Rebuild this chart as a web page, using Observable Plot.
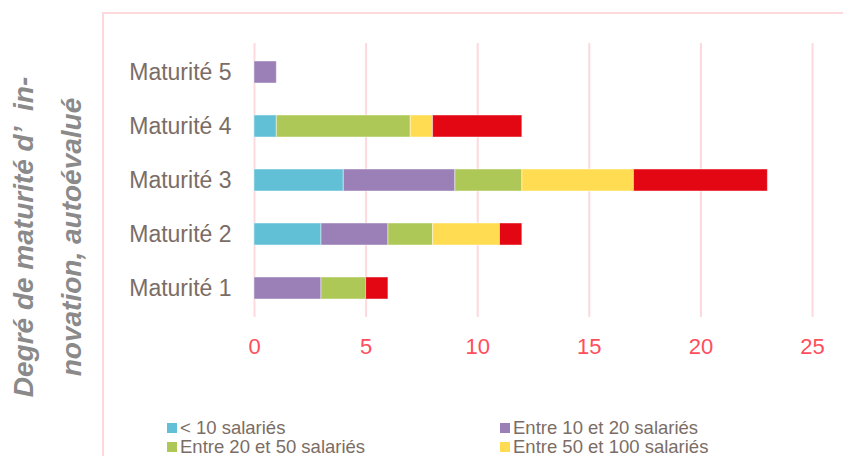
<!DOCTYPE html>
<html>
<head>
<meta charset="utf-8">
<script src="https://cdn.jsdelivr.net/npm/d3@7"></script>
<script src="https://cdn.jsdelivr.net/npm/@observablehq/plot@0.6"></script>
<style>
  html, body { margin: 0; padding: 0; background: #fff; }
  #wrap { position: relative; width: 843px; height: 456px; overflow: hidden; background: #fff; font-family: "Liberation Sans", Arial, sans-serif; }
  #frame { position: absolute; left: 102px; top: 12px; width: 900px; height: 600px; border: 2px solid #fdd9dd; box-sizing: border-box; }
  #chart { position: absolute; left: 0; top: 0; }
  #ytitle { position: absolute; left: 48px; top: 237px; width: 380px; transform: translate(-50%, -50%) rotate(-90deg);
            text-align: center; font-weight: bold; font-style: italic; font-size: 28px; line-height: 48px; color: #8a8a8a; white-space: nowrap; }
  .leg { position: absolute; font-size: 18.5px; color: #7b6d65; white-space: nowrap; line-height: 19px; }
  .leg i { display: inline-block; width: 10px; height: 10px; margin-right: 3px; vertical-align: 1px; }
</style>
</head>
<body>
<div id="wrap">
  <div id="frame"></div>
  <div id="chart"></div>
  <div id="ytitle">Degré de maturité d’&nbsp;&nbsp;in-<br>novation, autoévalué</div>
  <div id="legend"></div>
</div>
<script>
const categories = ["Maturité 1", "Maturité 2", "Maturité 3", "Maturité 4", "Maturité 5"];
const series = ["< 10 salariés", "Entre 10 et 20 salariés", "Entre 20 et 50 salariés", "Entre 50 et 100 salariés", "> 100 salariés"];
const lt10     = [0, 3, 4, 1, 0];
const s10to20  = [3, 3, 5, 0, 1];
const s20to50  = [2, 2, 3, 6, 0];
const s50to100 = [0, 3, 5, 1, 0];
const gt100    = [1, 1, 6, 4, 0];
const colors = ["#62c0d6", "#9b80b7", "#adc856", "#ffdc52", "#e30613"];
const xTicks = [0, 5, 10, 15, 20, 25];
// legend entries visible in the picture (the fifth one is cut off by the image edge)
const legendShown = series.slice(0, 4);

const valuesBySeries = [lt10, s10to20, s20to50, s50to100, gt100];
const data = [];
series.forEach((s, i) => categories.forEach((c, j) => {
  if (valuesBySeries[i][j] > 0) data.push({cat: c, series: s, value: valuesBySeries[i][j]});
}));

const chart = Plot.plot({
  width: 843,
  height: 360,
  marginLeft: 254,
  marginRight: 31,
  marginTop: 43,
  marginBottom: 43,
  style: {fontFamily: "'Liberation Sans', Arial, sans-serif", background: "transparent"},
  x: {domain: [0, 25]},
  y: {domain: [...categories].reverse(), paddingInner: 0.6, paddingOuter: 0.3},
  color: {domain: series, range: colors},
  marks: [
    Plot.ruleX(xTicks, {stroke: "#fdd9dd", strokeWidth: 2}),
    Plot.barX(data, Plot.stackX({x: "value", y: "cat", fill: "series", order: series, stroke: "#ffffff", strokeOpacity: 0.45, strokeWidth: 1})),
    Plot.axisX({ticks: xTicks, tickSize: 0, tickPadding: 21, fontSize: 22, color: "#ff4d5b", label: null}),
    Plot.axisY({tickSize: 0, tickPadding: 23, fontSize: 23, color: "#7b6d65", label: null})
  ]
});
document.getElementById("chart").appendChild(chart);

const legendPos = [[167, 418], [500, 418], [167, 437], [500, 437]];
const legend = document.getElementById("legend");
legendShown.forEach((s, i) => {
  const d = document.createElement("div");
  d.className = "leg";
  d.style.left = legendPos[i][0] + "px";
  d.style.top = legendPos[i][1] + "px";
  const sw = document.createElement("i");
  sw.style.background = colors[i];
  d.appendChild(sw);
  d.appendChild(document.createTextNode(s));
  legend.appendChild(d);
});
</script>
</body>
</html>
